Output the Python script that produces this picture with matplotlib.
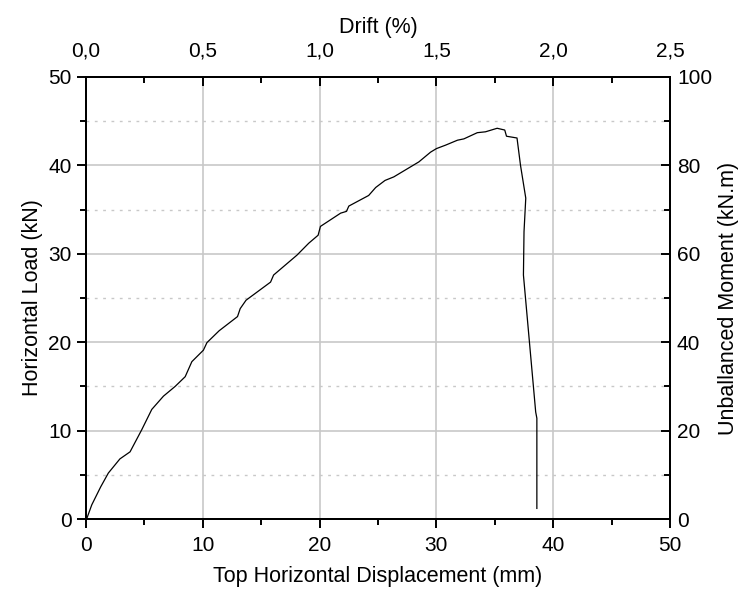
import matplotlib
matplotlib.use('Agg')
import matplotlib.pyplot as plt
from matplotlib.ticker import MultipleLocator, FuncFormatter

plt.rcParams['font.family'] = ['Liberation Sans', 'DejaVu Sans']

# displacement (mm) vs horizontal load (kN)
disp = [0.05, 0.49, 1.26, 1.91, 2.9, 3.77, 4.77, 5.63, 6.63, 7.63, 8.49, 9.06,
        10.05, 10.35, 11.4, 12.97, 13.2, 13.7, 15.8, 16.06, 18.06, 19.07, 19.87,
        20.07, 21.8, 22.3, 22.5, 24.2, 24.8, 25.6, 26.35, 28.5, 29.5, 30.0, 30.8,
        31.8, 32.35, 33.5, 34.2, 35.2, 35.85, 36.0, 36.9, 37.2, 37.65, 37.5,
        37.45, 38.5, 38.6, 38.6]
load = [0.0, 1.6, 3.65, 5.2, 6.8, 7.6, 10.1, 12.4, 13.9, 15.0, 16.1, 17.8,
        19.1, 19.95, 21.3, 22.9, 23.8, 24.75, 26.8, 27.6, 29.85, 31.2, 32.1,
        33.1, 34.6, 34.8, 35.4, 36.6, 37.5, 38.3, 38.7, 40.4, 41.5, 41.9, 42.3,
        42.85, 43.0, 43.7, 43.8, 44.2, 44.0, 43.3, 43.1, 40.0, 36.3, 32.5,
        27.6, 12.1, 11.4, 1.2]

x_ticks = [0, 10, 20, 30, 40, 50]
y_ticks = [0, 10, 20, 30, 40, 50]
drift_ticks = [0.0, 0.5, 1.0, 1.5, 2.0, 2.5]
moment_ticks = [0, 20, 40, 60, 80, 100]

fs = 15
lfs = 15.5

fig = plt.figure(figsize=(7.41, 5.90), dpi=100)
ax = fig.add_axes([0.1161, 0.1203, 0.7881, 0.7492])

grid_col = '#c8c8c8'
for v in x_ticks[1:-1]:
    ax.axvline(v, color=grid_col, lw=1.2, zorder=0)
for v in y_ticks[1:-1]:
    ax.axhline(v, color=grid_col, lw=1.2, zorder=0)
for v in [5, 15, 25, 35, 45]:
    ax.axhline(v, color=grid_col, lw=1.0, ls=(0, (2, 4)), zorder=0)

ax.plot(disp, load, color='black', lw=0.9)

ax.set_xlim(0, 50)
ax.set_ylim(0, 50)
ax.set_xticks(x_ticks)
ax.set_yticks(y_ticks)
ax.xaxis.set_minor_locator(MultipleLocator(5))
ax.yaxis.set_minor_locator(MultipleLocator(5))
ax.tick_params(which='both', direction='out', width=1.4, labelsize=fs)
ax.tick_params(axis='x', pad=6)
ax.tick_params(axis='y', pad=4)
ax.tick_params(which='major', length=6.5)
ax.tick_params(which='minor', length=4.5)
ax.set_xlabel('Top Horizontal Displacement (mm)', fontsize=lfs, labelpad=8)
ax.set_ylabel('Horizontal Load (kN)', fontsize=lfs, labelpad=4)

comma = FuncFormatter(lambda v, p: f'{v:.1f}'.replace('.', ','))

top = ax.twiny()
top.set_xlim(0, 2.5)
top.set_xticks(drift_ticks)
top.xaxis.set_minor_locator(MultipleLocator(0.25))
top.xaxis.set_major_formatter(comma)
top.tick_params(which='both', direction='in', width=1.4, labelsize=fs, pad=12)
top.tick_params(which='major', length=6.5)
top.tick_params(which='minor', length=4.5)
top.set_xlabel('Drift (%)', fontsize=lfs, labelpad=6)

right = ax.twinx()
right.set_ylim(0, 100)
right.set_yticks(moment_ticks)
right.yaxis.set_minor_locator(MultipleLocator(10))
right.tick_params(which='both', direction='in', width=1.4, labelsize=fs, pad=5)
right.tick_params(which='major', length=6.5)
right.tick_params(which='minor', length=4.5)
right.set_ylabel('Unballanced Moment (kN.m)', fontsize=15.5, labelpad=4)

for a in (ax, top, right):
    for s in a.spines.values():
        s.set_linewidth(1.4)

fig.savefig('out.png', dpi=100)
